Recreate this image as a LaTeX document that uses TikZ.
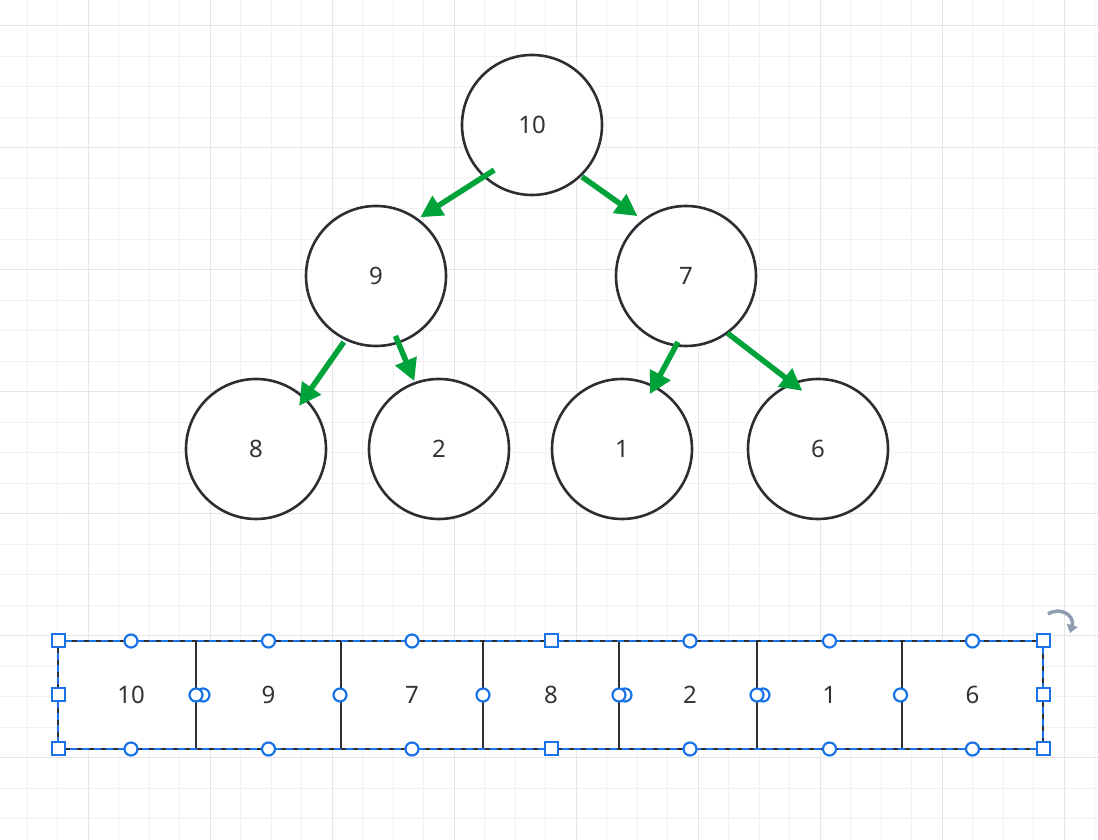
\documentclass[tikz,border=0pt]{standalone}
\usepackage{fontspec}
\setmainfont{Noto Sans}
\usetikzlibrary{arrows.meta,calc}
\definecolor{gridminor}{HTML}{F1F1F1}
\definecolor{gridmajor}{HTML}{E5E5E5}
\definecolor{ink}{HTML}{2C2E33}
\definecolor{txt}{HTML}{333333}
\definecolor{grn}{HTML}{00A33A}
\definecolor{sel}{HTML}{1A73E8}
\definecolor{rot}{HTML}{8E9CB2}
\begin{document}
\begin{tikzpicture}[x=1pt,y=1pt,
  minorline/.style={gridminor,line width=1.2pt},
  majorline/.style={gridmajor,line width=1.5pt},
  heapnode/.style={circle,draw=ink,line width=2.6pt,fill=white,minimum size=140pt,inner sep=0pt,outer sep=0pt,text=txt,font=\fontsize{24}{28}\selectfont},
  cell/.style={rectangle,draw=ink,line width=2.6pt,fill=white,minimum height=108pt,inner sep=0pt,outer sep=0pt,text=txt,font=\fontsize{24}{28}\selectfont},
  arr/.style={grn,line width=5.5pt,-{Triangle[length=22pt,width=22pt]}},
  sqhandle/.style={rectangle,draw=sel,fill=white,line width=2pt,minimum size=13pt,inner sep=0pt},
  chandle/.style={circle,draw=sel,fill=white,line width=2.2pt,minimum size=13pt,inner sep=0pt},
  selbox/.style={sel,line width=1.6pt,dash pattern=on 7pt off 5pt}
]
\useasboundingbox (0,0) rectangle (1098,840);
\clip (0,0) rectangle (1098,840);
\fill[white] (0,0) rectangle (1098,840);
% grid
\foreach \i in {-2,...,33} \draw[minorline] ({88.3+30.5*\i},0) -- ++(0,840);
\foreach \k in {0,...,27} \draw[minorline] (0,{814.3-30.5*\k}) -- ++(1098,0);
\foreach \i in {0,...,8} \draw[majorline] ({88.3+122*\i},0) -- ++(0,840);
\foreach \k in {0,...,6} \draw[majorline] (0,{814.3-122*\k}) -- ++(1098,0);

% heap nodes
\node[heapnode] (n10) at (532,715) {10};
\node[heapnode] (n9) at (376,564) {9};
\node[heapnode] (n7) at (686,564) {7};
\node[heapnode] (n8) at (256,391) {8};
\node[heapnode] (n2) at (439,391) {2};
\node[heapnode] (n1) at (622,391) {1};
\node[heapnode] (n6) at (818,391) {6};

% arrows
\draw[arr] ($(n10.center)!0.84!(n10.230)$) -- ($(n9.center)!1.05!(n9.53)$);
\draw[arr] ($(n10.center)!1.03!(n10.314)$) -- ($(n7.center)!1.1!(n7.129)$);
\draw[arr] ($(n9.center)!1.05!(n9.244)$) -- ($(n8.center)!0.87!(n8.45)$);
\draw[arr] ($(n9.center)!0.9!(n9.288)$) -- ($(n2.center)!1.03!(n2.110)$);
\draw[arr] ($(n7.center)!0.95!(n7.263)$) -- ($(n1.center)!0.88!(n1.63)$);
\draw[arr] ($(n7.center)!1.01!(n7.306)$) -- ($(n6.center)!0.86!(n6.105)$);

% array cells
\node[cell,minimum width=138pt] (c1) at (127,145) {\hspace{8pt}10};
\node[cell,minimum width=145pt] (c2) at (268.5,145) {9};
\node[cell,minimum width=142pt] (c3) at (412,145) {7};
\node[cell,minimum width=136pt] (c4) at (551,145) {8};
\node[cell,minimum width=138pt] (c5) at (688,145) {\hspace{4pt}2};
\node[cell,minimum width=145pt] (c6) at (829.5,145) {1};
\node[cell,minimum width=141pt] (c7) at (972.5,145) {6};

% selection overlay
\draw[selbox] (c1.north west) rectangle (c7.south east);
\node[chandle] at ($(c1.north)+(4,0)$) {};
\node[chandle] at ($(c1.south)+(4,0)$) {};
\node[chandle] at ($(c5.north)+(2,0)$) {};
\node[chandle] at ($(c5.south)+(2,0)$) {};
\foreach \c in {c2,c3,c6,c7} {
  \node[chandle] at (\c.north) {};
  \node[chandle] at (\c.south) {};
}
\node[chandle] at ($(c2.west)+(7,0)$) {};
\node[chandle] at (c2.west) {};
\node[chandle] at ($(c3.west)+(-1,0)$) {};
\node[chandle] at (c4.west) {};
\node[chandle] at ($(c5.west)+(6,0)$) {};
\node[chandle] at (c5.west) {};
\node[chandle] at ($(c6.west)+(6,0)$) {};
\node[chandle] at (c6.west) {};
\node[chandle] at ($(c7.west)+(-1.5,0)$) {};
\foreach \a in {c1.north west,c1.west,c1.south west,c4.north,c4.south,c7.north east,c7.east,c7.south east}
  \node[sqhandle] at (\a) {};

% rotate icon
\draw[rot,line width=3.5pt,-{Triangle[length=8pt,width=11pt]}] (1048,226) .. controls (1061,234) and (1075,224) .. (1070,207);
\end{tikzpicture}
\end{document}
